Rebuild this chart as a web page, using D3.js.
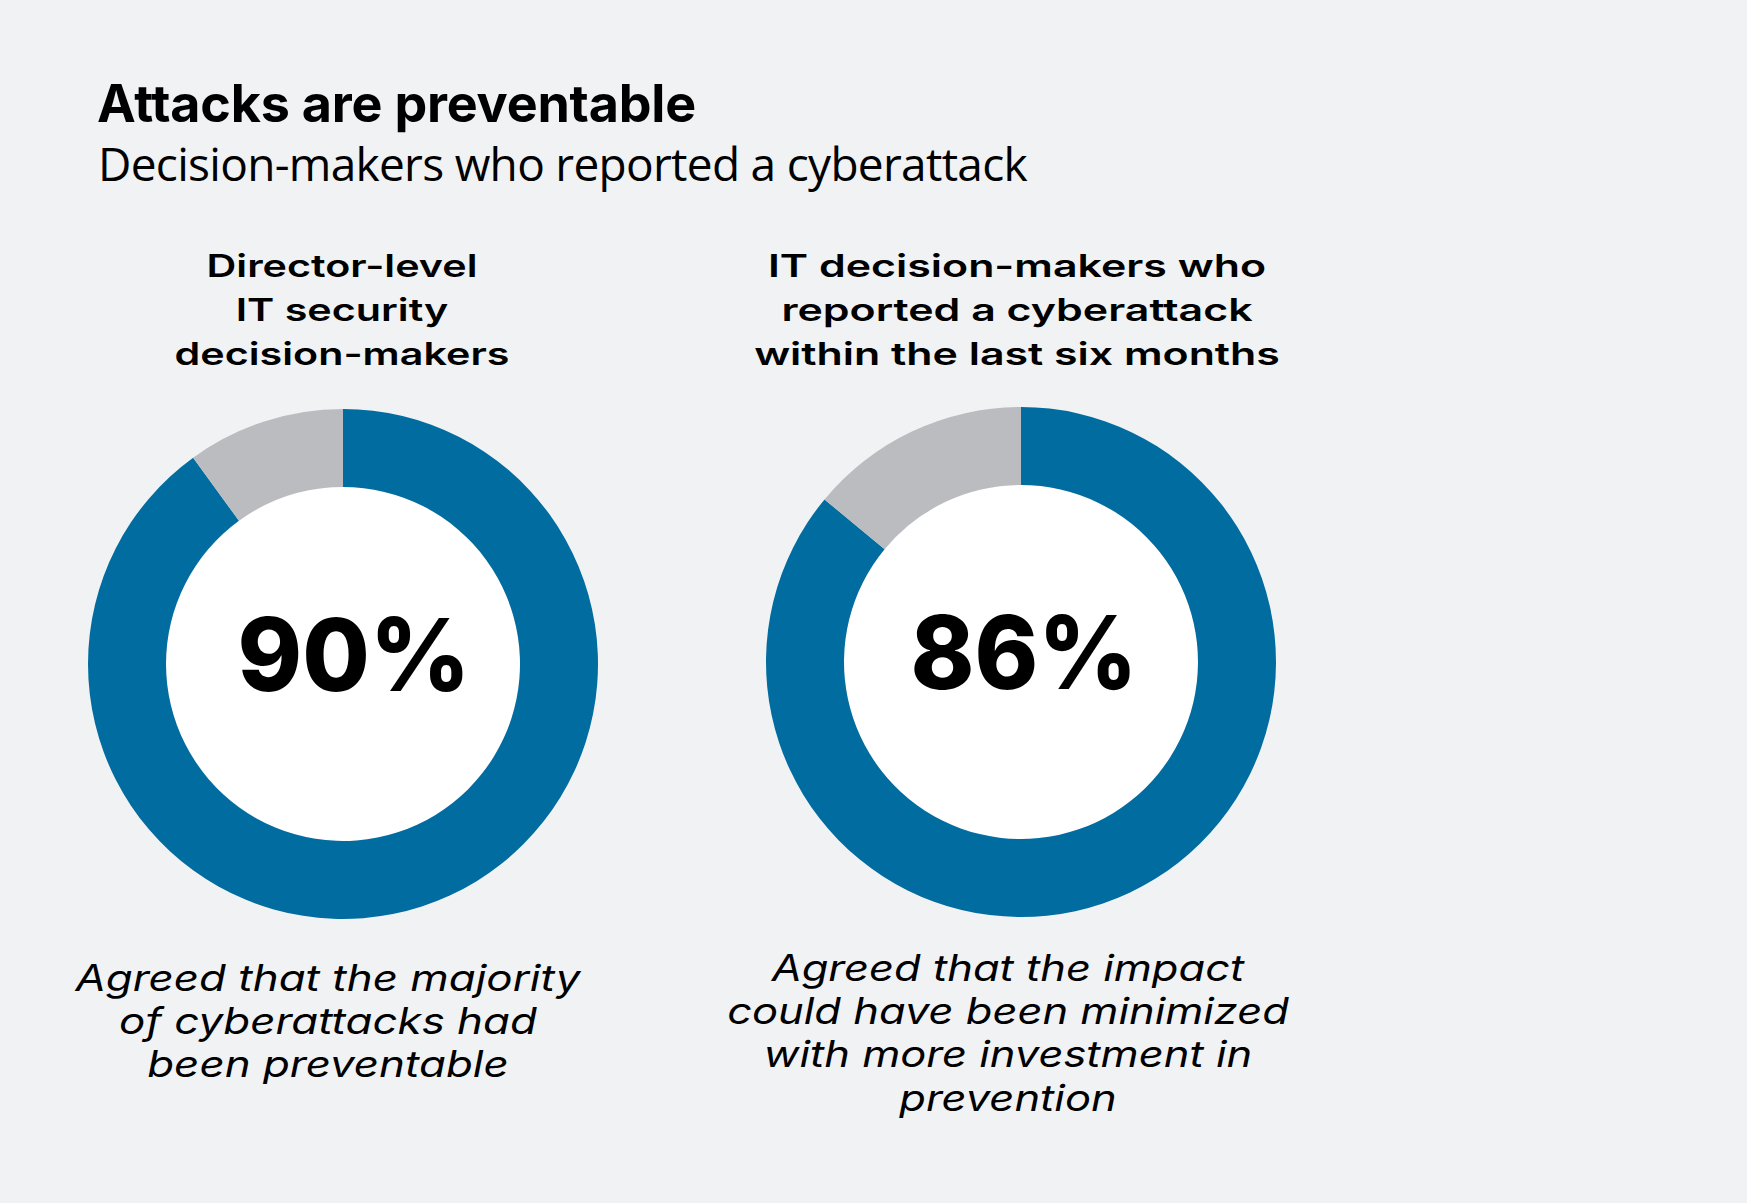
<!DOCTYPE html>
<html>
<head>
<meta charset="utf-8">
<script src="https://cdn.jsdelivr.net/npm/d3@7"></script>
<style>
  html, body { margin: 0; padding: 0; background: #f1f2f4; }
  svg { display: block; }
</style>
</head>
<body>
<div id="chart"></div>
<script>
// ---------- data ----------
const chartTitle = "Attacks are preventable";
const chartSubtitle = "Decision-makers who reported a cyberattack";
const groupTitles = [
  ["Director-level", "IT security", "decision-makers"],
  ["IT decision-makers who", "reported a cyberattack", "within the last six months"]
];
const agreedShare = [90, 86];          // percent who agreed
const percentLabels = ["90%", "86%"];
const captions = [
  ["Agreed that the majority", "of cyberattacks had", "been preventable"],
  ["Agreed that the impact", "could have been minimized", "with more investment in", "prevention"]
];
const sliceColors = ["#006ca0", "#bbbcbf"];

// ---------- layout ----------
const W = 1747, H = 1203;
const svg = d3.select("#chart").append("svg").attr("width", W).attr("height", H);
svg.append("rect").attr("width", W).attr("height", H).attr("fill", "#f1f2f4");

const SANS = "Inter, 'Noto Sans', 'DejaVu Sans', sans-serif";
const HUMAN = "'Open Sans', 'Noto Sans', sans-serif";

function fitSpacing(nodeSel, target) {
  const w = nodeSel.node().getComputedTextLength();
  const n = nodeSel.text().length;
  return (target - w) / n;
}

// Title
const t = svg.append("text").attr("x", 97).attr("y", 122)
  .attr("font-family", SANS).attr("font-weight", 700).attr("font-size", 52)
  .attr("fill", "#000").text(chartTitle);
t.attr("letter-spacing", fitSpacing(t, 599));

const st = svg.append("text").attr("x", 98).attr("y", 181)
  .attr("font-family", HUMAN).attr("font-weight", 400).attr("font-size", 46)
  .attr("fill", "#000").text(chartSubtitle);
st.attr("letter-spacing", fitSpacing(st, 929));

// donut geometry
const centers = [{cx: 343, cy: 664}, {cx: 1021, cy: 662}];
const outerR = 255, innerR = 177;
const pie = d3.pie().sort(null).value(d => d);
const arc = d3.arc().innerRadius(innerR).outerRadius(outerR);

const headerX = [342, 1017], headerY = 277, headerLH = 44;
const headerRefLine = [2, 2], headerRefW = [335, 526];
const pctX = [354, 1024], pctY = [691, 689], pctW = [233, 227];
const capX = [328, 1008], capY = [991, 981], capLH = 43.2;
const capRefLine = [0, 1], capRefW = [505, 562];

// draws a centred block of lines, widened horizontally so that a reference line matches its measured width
function block(lines, cx, y0, lh, refIdx, refW, attrs) {
  const g = svg.append("g");
  const txt = g.selectAll("text").data(lines).join("text")
    .attr("x", 0).attr("y", (d, j) => y0 + j * lh)
    .attr("text-anchor", "middle").attr("fill", "#000").text(d => d);
  Object.entries(attrs).forEach(([k, v]) => txt.attr(k, v));
  const w = txt.nodes()[refIdx].getComputedTextLength();
  const k = refW / w;
  g.attr("transform", `translate(${cx},0) scale(${k},1)`);
  return g;
}

agreedShare.forEach((v, i) => {
  const g = svg.append("g").attr("transform", `translate(${centers[i].cx},${centers[i].cy})`);
  g.append("circle").attr("r", innerR).attr("fill", "#ffffff");
  g.selectAll("path").data(pie([v, 100 - v])).join("path")
    .attr("d", arc).attr("fill", (d, j) => sliceColors[j]);

  block(groupTitles[i], headerX[i], headerY, headerLH, headerRefLine[i], headerRefW[i],
    {"font-family": SANS, "font-weight": 600, "font-size": 31.5});

  block([percentLabels[i]], pctX[i], pctY[i], 0, 0, pctW[i],
    {"font-family": SANS, "font-weight": 800, "font-size": 101});

  block(captions[i], capX[i], capY[i], capLH, capRefLine[i], capRefW[i],
    {"font-family": SANS, "font-style": "italic", "font-weight": 400, "font-size": 36.5});
});
</script>
</body>
</html>
